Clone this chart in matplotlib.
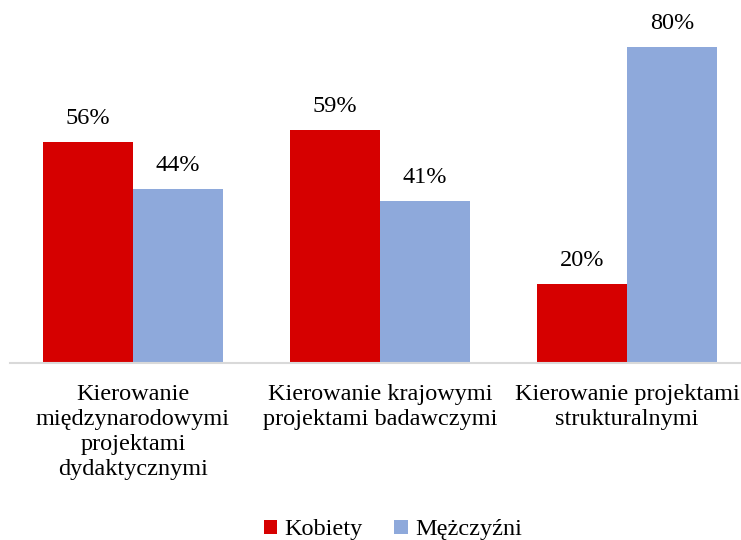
import matplotlib
matplotlib.use("Agg")
import matplotlib.pyplot as plt
import numpy as np

categories = ["Kierowanie\nmiędzynarodowymi\nprojektami\ndydaktycznymi",
              "Kierowanie krajowymi\nprojektami badawczymi",
              "Kierowanie projektami\nstrukturalnymi"]
series_names = ["Kobiety", "Mężczyźni"]
kobiety = [56, 59, 20]
mezczyzni = [44, 41, 80]

plt.rcParams['font.family'] = ['Liberation Serif', 'DejaVu Serif']
fs = 17.5

fig = plt.figure(figsize=(7.41, 5.40), dpi=100)
ax = fig.add_axes([9.5/741, (540-363)/540, 741/741, 363/540])

x = np.arange(len(categories))
w = 0.364
red = "#D60000"
blue = "#8EA9DB"
b1 = ax.bar(x - w/2, kobiety, w, color=red, label=series_names[0])
b2 = ax.bar(x + w/2, mezczyzni, w, color=blue, label=series_names[1])
for bars, vals in ((b1, kobiety), (b2, mezczyzni)):
    for b, v in zip(bars, vals):
        ax.text(b.get_x() + b.get_width()/2, v + 3.3, f"{v}%", ha="center",
                va="bottom", fontsize=fs)

ax.set_xlim(-0.5, 2.5)
ax.set_ylim(0, 363/3.95)
ax.set_yticks([])
ax.set_xticks(x)
ax.set_xticklabels(categories, fontsize=fs, linespacing=1.25)
ax.tick_params(axis='x', length=0, pad=15)
for s in ["top", "right", "left"]:
    ax.spines[s].set_visible(False)
ax.spines["bottom"].set_color("#D9D9D9")
ax.spines["bottom"].set_linewidth(1.5)

fig.legend(handles=[b1, b2], loc="center", bbox_to_anchor=(393/741, 10/540),
           ncol=2, frameon=False, fontsize=fs, handlelength=0.55, handleheight=0.55,
           handletextpad=0.3, columnspacing=1.3)

fig.savefig("out.png", dpi=100)
